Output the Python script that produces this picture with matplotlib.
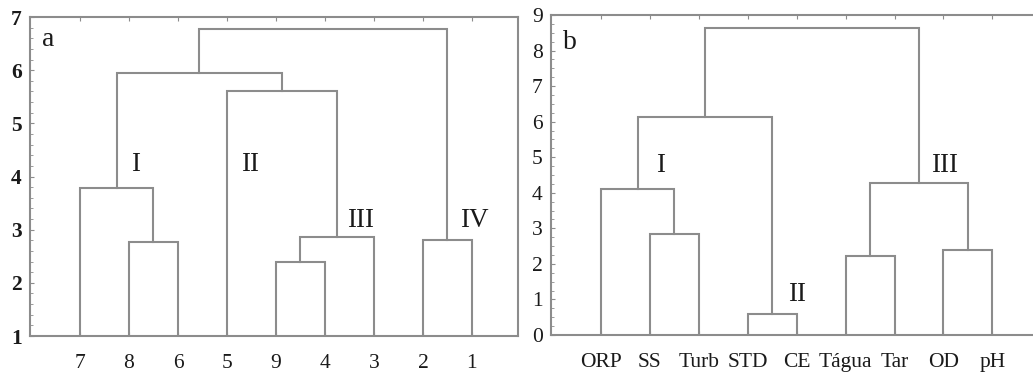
import numpy as np
import matplotlib
matplotlib.use("Agg")
import matplotlib.pyplot as plt
from matplotlib.ticker import MultipleLocator

plt.rcParams['font.family'] = ['Liberation Serif', 'DejaVu Serif']

# Panel a: sites
labels_a = ["7", "8", "6", "5", "9", "4", "3", "2", "1"]
# (left node, right node, linkage distance); leaves are 0..8, new nodes 9..
merges_a = [(1, 2, 2.76), (0, 9, 3.78), (4, 5, 2.40), (11, 6, 2.87),
            (3, 12, 5.60), (10, 13, 5.95), (7, 8, 2.81), (14, 15, 6.77)]
groups_a = [("I", 2.14, 4.22), ("II", 4.47, 4.22), ("III", 6.73, 3.18), ("IV", 9.04, 3.18)]

# Panel b: variables
labels_b = ["ORP", "SS", "Turb", "STD", "CE", "Tágua", "Tar", "OD", "pH"]
merges_b = [(1, 2, 2.84), (0, 9, 4.11), (3, 4, 0.60), (10, 11, 6.14),
            (5, 6, 2.21), (7, 8, 2.38), (13, 14, 4.27), (12, 15, 8.63)]
groups_b = [("I", 2.22, 4.76), ("II", 5.0, 1.13), ("III", 8.02, 4.76)]

line_col = "#8c8c8c"
text_col = "#1a1a1a"


def draw_tree(ax, labels, merges, base):
    xs = {i: i + 1.0 for i in range(len(labels))}
    ys = {i: base for i in range(len(labels))}
    n = len(labels)
    for k, (a, b, h) in enumerate(merges):
        ax.plot([xs[a], xs[a], xs[b], xs[b]], [ys[a], h, h, ys[b]],
                color=line_col, lw=1.5, solid_joinstyle='miter')
        xs[n + k] = (xs[a] + xs[b]) / 2
        ys[n + k] = h


fig = plt.figure(figsize=(10.33, 3.74), dpi=100)
ax1 = fig.add_axes([30 / 1033, 1 - 336 / 374, 488 / 1033, 319 / 374])
ax2 = fig.add_axes([551 / 1033, 1 - 335 / 374, 482 / 1033, 320 / 374])

draw_tree(ax1, labels_a, merges_a, 1)
draw_tree(ax2, labels_b, merges_b, 0)

ax1.set_xlim(-0.02, 9.94)
ax1.set_ylim(1, 7)
ax2.set_xlim(-0.02, 9.83)
ax2.set_ylim(0, 9)

for ax, labels in ((ax1, labels_a), (ax2, labels_b)):
    ax.set_xticks(np.arange(1, len(labels) + 1))
    ax.set_xticklabels(labels)
    ax.tick_params(axis='x', direction='in', length=3, pad=13, labelsize=15.5,
                   color=line_col, top=True, labelcolor=text_col)
    ax.tick_params(axis='y', which='both', direction='in', labelsize=15.5,
                   color=line_col, pad=6, labelcolor=text_col)
    ax.tick_params(axis='y', which='major', length=3)
    ax.tick_params(axis='y', which='minor', length=2)
    for s in ax.spines.values():
        s.set_color(line_col)
        s.set_linewidth(1.5)

ax1.yaxis.set_major_locator(MultipleLocator(1))
ax1.yaxis.set_minor_locator(MultipleLocator(0.2))
ax2.yaxis.set_major_locator(MultipleLocator(1))
ax2.yaxis.set_minor_locator(MultipleLocator(0.25))
ax2.spines['right'].set_visible(False)
for t in ax1.get_yticklabels():
    t.set_fontweight('bold')

ax1.text(0.35, 6.57, "a", fontsize=20, ha='center', va='center', color=text_col)
ax2.text(0.37, 8.24, "b", fontsize=20, ha='center', va='center', color=text_col)
for name, x, y in groups_a:
    ax1.text(x, y, name, fontsize=19.5, ha='center', va='center', color=text_col)
for name, x, y in groups_b:
    ax2.text(x, y, name, fontsize=19.5, ha='center', va='center', color=text_col)

fig.savefig("out.png", dpi=100)
